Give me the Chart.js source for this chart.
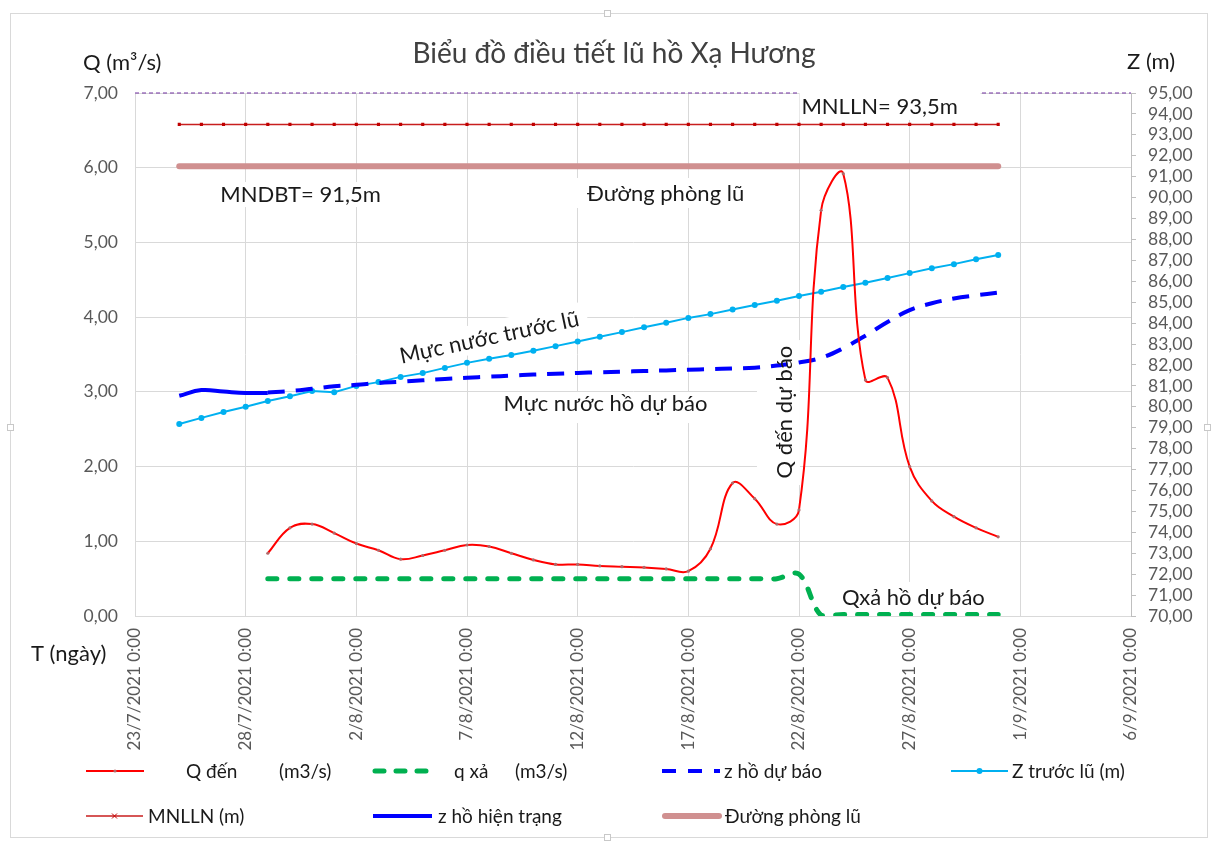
<!DOCTYPE html>
<html><head><meta charset="utf-8">
<script src="https://cdn.jsdelivr.net/npm/chart.js@4.4.1/dist/chart.umd.min.js"></script>
<style>html,body{margin:0;padding:0;background:#fff;} canvas{display:block}</style>
</head><body>
<canvas id="c" width="1216" height="841" style="width:1216px;height:841px"></canvas>
<script>
// ---------- DATA ----------
const dates = ['23/7/2021','24/7/2021','25/7/2021','26/7/2021','27/7/2021','28/7/2021','29/7/2021','30/7/2021','31/7/2021',
  '1/8/2021','2/8/2021','3/8/2021','4/8/2021','5/8/2021','6/8/2021','7/8/2021','8/8/2021','9/8/2021','10/8/2021',
  '11/8/2021','12/8/2021','13/8/2021','14/8/2021','15/8/2021','16/8/2021','17/8/2021','18/8/2021','19/8/2021','20/8/2021',
  '21/8/2021','22/8/2021','23/8/2021','24/8/2021','25/8/2021','26/8/2021','27/8/2021','28/8/2021','29/8/2021','30/8/2021',
  '31/8/2021','1/9/2021','2/9/2021','3/9/2021','4/9/2021','5/9/2021','6/9/2021'];
const xTickLabels = ['23/7/2021 0:00','28/7/2021 0:00','2/8/2021 0:00','7/8/2021 0:00','12/8/2021 0:00',
  '17/8/2021 0:00','22/8/2021 0:00','27/8/2021 0:00','1/9/2021 0:00','6/9/2021 0:00'];

// Q đến (m3/s), from 29/7 to 31/8
const qDenStart = '29/7/2021';
const qDen = [0.84,1.18,1.23,1.11,0.97,0.88,0.76,0.81,0.88,0.95,0.93,0.84,0.75,0.69,0.69,0.67,0.66,0.65,0.63,0.60,
  0.90,1.78,1.57,1.23,1.42,5.43,5.92,3.16,3.19,2.00,1.54,1.33,1.18,1.06];
// q xả (m3/s), from 29/7 to 31/8
const qXaStart = '29/7/2021';
const qXa = [0.5,0.5,0.5,0.5,0.5,0.5,0.5,0.5,0.5,0.5,0.5,0.5,0.5,0.5,0.5,0.5,0.5,0.5,0.5,0.5,0.5,0.5,0.5,0.5,
  0.56,0.01,0.02,0.02,0.02,0.02,0.02,0.02,0.02,0.02];
// z hồ dự báo (m), from 29/7 to 31/8
const zDuBaoStart = '29/7/2021';
const zDuBao = [80.68,80.75,80.86,80.98,81.05,81.14,81.20,81.27,81.33,81.39,81.44,81.49,81.54,81.58,81.62,81.65,
  81.68,81.71,81.74,81.77,81.80,81.83,81.87,81.97,82.12,82.34,82.80,83.40,84.05,84.62,84.95,85.18,85.33,85.46];
// Z trước lũ (m), from 25/7 to 31/8
const zTruocLuStart = '25/7/2021';
const zTruocLu = [79.18,79.47,79.75,80.00,80.28,80.50,80.75,80.70,81.00,81.18,81.43,81.61,81.86,82.10,82.30,82.48,
  82.68,82.90,83.12,83.35,83.57,83.80,84.02,84.25,84.43,84.65,84.87,85.07,85.30,85.50,85.73,85.93,86.16,86.39,
  86.62,86.82,87.05,87.26];
// MNLLN (m), from 25/7 to 31/8
const mnllnStart = '25/7/2021';
const mnlln = [93.5,93.5,93.5,93.5,93.5,93.5,93.5,93.5,93.5,93.5,93.5,93.5,93.5,93.5,93.5,93.5,93.5,93.5,93.5,
  93.5,93.5,93.5,93.5,93.5,93.5,93.5,93.5,93.5,93.5,93.5,93.5,93.5,93.5,93.5,93.5,93.5,93.5,93.5];
// z hồ hiện trạng (m), from 25/7 to 29/7
const zHienTrangStart = '25/7/2021';
const zHienTrang = [80.53,80.80,80.73,80.66,80.66];
// Đường phòng lũ (m), from 25/7 to 31/8
const phongLuStart = '25/7/2021';
const phongLu = [91.5,91.5,91.5,91.5,91.5,91.5,91.5,91.5,91.5,91.5,91.5,91.5,91.5,91.5,91.5,91.5,91.5,91.5,91.5,
  91.5,91.5,91.5,91.5,91.5,91.5,91.5,91.5,91.5,91.5,91.5,91.5,91.5,91.5,91.5,91.5,91.5,91.5,91.5];
// top reference line (95 m)
const topLine = [95, 95];
const topLineDates = ['23/7/2021','6/9/2021'];

// ---------- HELPERS ----------
function series(start, values){
  const i0 = dates.indexOf(start);
  return values.map((v,i)=>({x: dates[i0+i], y: v}));
}
const FONT = 'Lato, "Open Sans", "Noto Sans", sans-serif';
const fmt = v => Number(v).toFixed(2).replace('.', ',');

// Text notes placed in data units (day index, Z value)
const notes = [
  {text:'MNLLN= 93,5m', day:33.64, z:94.38, rot:0, box:[-80,-18,101,14], over:true},
  {text:'MNDBT= 91,5m', day:7.48, z:90.17, rot:0, box:[-88,-12,90,13]},
  {text:'Đường phòng lũ', day:23.97, z:90.22, rot:0, box:[-95,-15,95,15]},
  {text:'Mực nước trước lũ', day:16.0, z:83.35, rot:-12, box:[-100,-15,100,14]},
  {text:'Mực nước hồ dự báo', day:21.26, z:80.18, rot:0, box:[-122,-11,154,20]},
  {text:'Q đến dự báo', day:29.32, z:79.75, rot:-90, box:[-73,-27,72,16]},
  {text:'Qxả hồ dự báo', day:35.17, z:70.91, rot:0, box:[-82,-15,82,14]}
];

// legend layout (pixel positions of the legend block)
const legendLayout = [
  {ds:0, x0:86, x1:144, y:771, tx:186, tx2:279, marker:'dot'},
  {ds:1, x0:375, x1:430, y:771, tx:454, tx2:515, dash:[9,12], cap:'round'},
  {ds:2, x0:662, x1:720, y:771, tx:724, dash:[14,12]},
  {ds:3, x0:951, x1:1008, y:771, tx:1012, marker:'circle'},
  {ds:4, x0:86, x1:143, y:816, tx:148, marker:'star'},
  {ds:5, x0:373, x1:432, y:816, tx:438},
  {ds:6, x0:665, x1:719, y:816, tx:725, cap:'round'}
];

function drawBoxes(chart, over){
  const ctx = chart.ctx, sx = chart.scales.x, sy = chart.scales.y1;
  notes.filter(n=>!!n.over===over).forEach(n=>{
    const cx = sx.getPixelForValue(n.day), cy = sy.getPixelForValue(n.z);
    ctx.save(); ctx.translate(cx, cy); ctx.rotate(n.rot*Math.PI/180);
    ctx.fillStyle = '#ffffff';
    ctx.fillRect(n.box[0], n.box[1], n.box[2]-n.box[0], n.box[3]-n.box[1]);
    ctx.restore();
  });
}

const frameAndTextPlugin = {
  id:'frameText',
  beforeDatasetsDraw(chart){ drawBoxes(chart, false); },
  afterDatasetsDraw(chart){
    drawBoxes(chart, true);
    const ctx = chart.ctx, sx = chart.scales.x, sy = chart.scales.y1;
    ctx.save();
    ctx.font = '22px ' + FONT;
    ctx.fillStyle = '#1a1a1a';
    ctx.textAlign = 'center'; ctx.textBaseline = 'middle';
    notes.forEach(n=>{
      const cx = sx.getPixelForValue(n.day), cy = sy.getPixelForValue(n.z);
      ctx.save(); ctx.translate(cx, cy); ctx.rotate(n.rot*Math.PI/180);
      ctx.fillText(n.text, 0, 1);
      ctx.restore();
    });
    ctx.restore();
  },
  afterDraw(chart){
    const ctx = chart.ctx;
    ctx.save();
    // outer frame
    ctx.strokeStyle = '#d9d9d9'; ctx.lineWidth = 1;
    ctx.strokeRect(10.5, 13.5, 1197, 824);
    [[607,13],[10,427],[1207,427],[607,837]].forEach(p=>{
      ctx.fillStyle='#fff'; ctx.fillRect(p[0]-3,p[1]-3,7,7);
      ctx.strokeStyle='#c8c8c8'; ctx.strokeRect(p[0]-3+0.5,p[1]-3+0.5,6,6);
    });
    // title
    ctx.fillStyle = '#404040';
    ctx.font = '28px ' + FONT;
    ctx.textAlign = 'center'; ctx.textBaseline = 'alphabetic';
    ctx.fillText('Biểu đồ điều tiết lũ hồ Xạ Hương', 614, 63);
    // axis titles
    ctx.fillStyle = '#1a1a1a';
    ctx.font = '22px ' + FONT;
    ctx.textAlign = 'left';
    ctx.fillText('Q (m³/s)', 83, 70);
    ctx.fillText('Z (m)', 1127, 69);
    ctx.fillText('T (ngày)', 31, 661);
    // legend
    ctx.font = '19px ' + FONT;
    ctx.textBaseline = 'middle';
    legendLayout.forEach(it=>{
      const ds = chart.data.datasets[it.ds];
      ctx.save();
      ctx.strokeStyle = ds.borderColor;
      ctx.lineWidth = ds.borderWidth;
      ctx.setLineDash(it.dash || []);
      ctx.lineCap = it.cap || 'butt';
      ctx.beginPath(); ctx.moveTo(it.x0, it.y); ctx.lineTo(it.x1, it.y); ctx.stroke();
      ctx.setLineDash([]);
      const mx = (it.x0+it.x1)/2;
      if (it.marker==='circle'){ ctx.fillStyle=ds.pointBackgroundColor; ctx.beginPath(); ctx.arc(mx,it.y,3,0,Math.PI*2); ctx.fill(); }
      if (it.marker==='dot'){ ctx.fillStyle=ds.pointBackgroundColor; ctx.beginPath(); ctx.arc(mx,it.y,1.6,0,Math.PI*2); ctx.fill(); }
      if (it.marker==='star'){ ctx.strokeStyle=ds.pointBackgroundColor; ctx.lineWidth=1; ctx.beginPath();
        ctx.moveTo(mx-2.5,it.y-2.5); ctx.lineTo(mx+2.5,it.y+2.5); ctx.moveTo(mx+2.5,it.y-2.5); ctx.lineTo(mx-2.5,it.y+2.5); ctx.stroke(); }
      ctx.restore();
      ctx.fillStyle = '#1a1a1a';
      const parts = ds.label.split('\t');
      ctx.fillText(parts[0], it.tx, it.y+1);
      if (parts[1]) ctx.fillText(parts[1], it.tx2, it.y+1);
    });
    ctx.restore();
  }
};

const commonLine = {fill:false, tension:0.4, pointRadius:0, pointHoverRadius:0};

new Chart(document.getElementById('c'), {
  type:'line',
  data:{
    labels: dates,
    datasets:[
      Object.assign({}, commonLine, {label:'Q đến\t(m3/s)', data:series(qDenStart,qDen), yAxisID:'y',
        borderColor:'#ff0000', borderWidth:2, pointRadius:1.6, pointBackgroundColor:'#b06a6a', pointBorderWidth:0}),
      Object.assign({}, commonLine, {label:'q xả\t(m3/s)', data:series(qXaStart,qXa), yAxisID:'y',
        borderColor:'#00b050', borderWidth:5, borderDash:[9,13], borderCapStyle:'round', tension:0.35}),
      Object.assign({}, commonLine, {label:'z hồ dự báo', data:series(zDuBaoStart,zDuBao), yAxisID:'y1',
        borderColor:'#0000ff', borderWidth:4, borderDash:[17,11]}),
      Object.assign({}, commonLine, {label:'Z trước lũ (m)', data:series(zTruocLuStart,zTruocLu), yAxisID:'y1',
        borderColor:'#00b0f0', borderWidth:2, pointRadius:3, pointBackgroundColor:'#00b0f0', pointBorderWidth:0, tension:0}),
      Object.assign({}, commonLine, {label:'MNLLN (m)', data:series(mnllnStart,mnlln), yAxisID:'y1',
        borderColor:'#c81e1e', borderWidth:1.5, pointRadius:2.2, pointStyle:'rect', pointBackgroundColor:'#c00000', pointBorderWidth:0, tension:0}),
      Object.assign({}, commonLine, {label:'z hồ hiện trạng', data:series(zHienTrangStart,zHienTrang), yAxisID:'y1',
        borderColor:'#0000ff', borderWidth:4}),
      Object.assign({}, commonLine, {label:'Đường phòng lũ', data:series(phongLuStart,phongLu), yAxisID:'y1',
        borderColor:'#d09090', borderWidth:6, borderCapStyle:'round', tension:0}),
      Object.assign({}, commonLine, {label:'top', data:topLine.map((v,i)=>({x:topLineDates[i], y:v})), yAxisID:'y1',
        borderColor:'#7030a0', borderWidth:1, borderDash:[4,3], tension:0, clip:false})
    ]
  },
  options:{
    responsive:false, animation:false, devicePixelRatio:1,
    layout:{padding:{top:93, left:0, right:0, bottom:0}},
    plugins:{legend:{display:false}, title:{display:false}, tooltip:{enabled:false}},
    scales:{
      x:{type:'category', offset:false,
        afterFit(s){ s.height = 225; },
        grid:{drawTicks:false, color:(c)=> (c.index % 5 === 0 ? '#d9d9d9' : 'rgba(0,0,0,0)'), lineWidth:1},
        border:{color:'#d9d9d9'},
        ticks:{autoSkip:false, maxRotation:90, minRotation:90, padding:12, color:'#595959',
          font:{family:FONT, size:17},
          callback:(v,i)=> (i % 5 === 0 ? xTickLabels[i/5] : '')}
      },
      y:{position:'left', min:0, max:7,
        afterFit(s){ s.width = 135; },
        grid:{drawTicks:false, color:'#d9d9d9'},
        border:{color:'#d9d9d9'},
        ticks:{stepSize:1, padding:17, color:'#595959', font:{family:FONT, size:17.5}, callback:fmt}
      },
      y1:{position:'right', min:70, max:95,
        afterFit(s){ s.width = 85; },
        grid:{drawOnChartArea:false, drawTicks:true, tickLength:5, color:'#bfbfbf'},
        border:{color:'#bfbfbf'},
        ticks:{stepSize:1, autoSkip:false, padding:12, color:'#595959', font:{family:FONT, size:17.5}, callback:fmt}
      }
    }
  },
  plugins:[frameAndTextPlugin]
});
</script>
</body></html>
